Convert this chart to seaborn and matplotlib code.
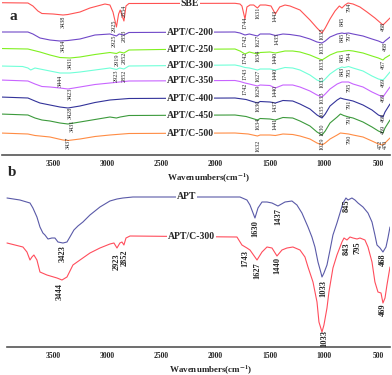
import matplotlib
matplotlib.use('Agg')
import matplotlib.pyplot as plt
import numpy as np
import pandas as pd
import seaborn as sns

sns.set_style('white')
plt.rcParams['font.family'] = ['Liberation Serif', 'DejaVu Serif']
plt.rcParams['mathtext.fontset'] = 'stix'

# ---------------- panel a : stacked spectra ----------------
sbe_wn = [3989, 3731, 3685, 3639, 3602, 3500, 3408, 3362, 3251, 3159, 3021, 2975, 2947, 2915, 2895,
          2880, 2846, 2827, 2800, 1822, 1776, 1758, 1730, 1712, 1684, 1650, 1615, 1590, 1540,
          1490, 1450, 1410, 1361, 1315, 1223, 1131, 1066, 1020, 990, 946, 900, 860, 836,
          808, 780, 734, 670, 605, 532, 458, 439, 393]
sbe_t = [152.3, 152, 149, 144, 141.5, 141, 140, 140.5, 143, 147, 151, 150, 143, 128, 141,
         145, 134, 149, 151.5, 151.7, 151, 149, 136, 148, 150, 150, 147, 150, 150,
         149, 141, 148, 150, 149, 145, 135, 127, 122, 127, 136, 144, 149, 147,
         150, 152, 151, 148, 143, 137, 130, 132, 137]

c200_wn = [3989, 3731, 3685, 3620, 3528, 3436, 3362, 3251, 3113, 2975, 2915, 2890, 2846, 2800,
           1822, 1776, 1730, 1690, 1615, 1590, 1500, 1450, 1380, 1315, 1223, 1131, 1066, 1020,
           990, 946, 880, 836, 815, 775, 734, 642, 559, 500, 458, 439, 393]
c200_t = [123, 123, 121, 117, 115, 114, 114.5, 116, 120, 121, 119, 121, 120, 122.5,
          123, 122, 120, 121, 119, 121, 121, 119.5, 121, 120.5, 119, 116, 113, 112,
          114, 118, 121, 122, 121.5, 122, 121, 119, 116, 114, 112, 114, 118]

c250_wn = [3989, 3731, 3620, 3528, 3436, 3344, 3251, 3113, 2975, 2915, 2885, 2846, 2800, 2513,
           1822, 1776, 1730, 1690, 1615, 1590, 1500, 1450, 1361, 1290, 1223, 1131, 1066, 1020,
           990, 946, 880, 836, 815, 775, 734, 642, 559, 500, 458, 439, 393]
c250_t = [106.5, 106, 103, 100, 97.5, 97, 98, 100.5, 102.5, 101.5, 103, 102, 105, 105.5,
          106, 104, 101, 103, 101, 102.5, 103, 102, 104, 104, 103, 100, 97, 95,
          97, 100, 103, 103.5, 104, 104.5, 104, 102, 99, 97, 95, 97, 100]

c300_wn = [3989, 3780, 3731, 3705, 3666, 3620, 3528, 3436, 3344, 3251, 3113, 2975, 2915, 2885,
           2846, 2800, 1822, 1776, 1730, 1690, 1615, 1590, 1500, 1450, 1361, 1290, 1223, 1131,
           1066, 1020, 990, 946, 880, 836, 815, 775, 734, 642, 559, 500, 458, 439, 393]
c300_t = [89, 88.5, 87, 85, 87, 86, 84, 82, 82, 83, 85, 87, 85.5, 87,
          86, 89, 90, 89, 87.5, 87, 85, 86, 86, 85, 87.5, 87, 85, 80,
          75, 73, 76, 81, 86, 88, 87.5, 88.5, 87, 84, 79, 76, 75, 77, 83]

c350_wn = [3989, 3731, 3666, 3602, 3528, 3436, 3362, 3251, 3113, 2975, 2800, 1822, 1776, 1730,
           1690, 1615, 1590, 1500, 1450, 1380, 1290, 1223, 1131, 1066, 1020, 990, 946, 880,
           836, 775, 734, 642, 559, 500, 458, 439, 393]
c350_t = [75, 74, 71, 68.5, 68, 67, 66, 68, 70.5, 72, 74, 74.5, 73.5, 72,
          71, 69, 70, 69.5, 67, 70, 70, 68, 64, 60, 58, 61, 66, 71,
          73, 73, 71, 68, 63, 60, 58, 61, 68]

c400_wn = [3989, 3731, 3666, 3620, 3528, 3436, 3362, 3251, 3113, 2975, 2800, 1822, 1720, 1615,
           1590, 1500, 1450, 1380, 1290, 1223, 1131, 1066, 1020, 990, 946, 880, 850, 820,
           775, 734, 642, 559, 500, 458, 439, 393]
c400_t = [58, 57, 54, 52, 50, 48, 47, 49, 52.5, 55, 56.5, 57, 55.5, 52,
          53.5, 53, 52, 54.5, 54, 51, 46, 40, 37, 41, 49, 55, 57, 56,
          55, 54, 50, 45, 40, 38, 43, 51]

c450_wn = [3989, 3731, 3666, 3602, 3528, 3436, 3362, 3251, 3113, 2975, 2915, 2880, 2800, 1822,
           1720, 1615, 1590, 1500, 1450, 1380, 1290, 1223, 1131, 1066, 1020, 990, 946, 880,
           850, 820, 775, 734, 642, 559, 500, 458, 439, 393]
c450_t = [41, 40, 37, 35, 34, 32, 31, 33, 35.5, 38, 37, 38, 39.5, 40,
          38.5, 35, 36.5, 36, 35, 37.5, 37, 34, 29, 23, 20, 24, 32, 38,
          41, 39.5, 38, 37, 33, 28, 24, 22, 27, 35]

c500_wn = [3989, 3731, 3666, 3528, 3408, 3362, 3251, 3113, 2975, 2800, 1822, 1700, 1615, 1590,
           1500, 1450, 1380, 1290, 1223, 1131, 1066, 1020, 990, 946, 880, 850, 775, 734,
           642, 559, 500, 465, 439, 393]
c500_t = [22, 21, 19.5, 18, 15, 14.5, 16, 18.5, 20, 21.5, 22, 21, 19, 20,
          20, 19.5, 21, 20.5, 19, 16, 12, 10, 12, 16, 20, 22, 21, 20,
          18, 14, 11, 10, 12, 17]

a_names = ['SBE', 'APT/C-200', 'APT/C-250', 'APT/C-300',
           'APT/C-350', 'APT/C-400', 'APT/C-450', 'APT/C-500']
a_colors = ['#ff5252', '#7048c8', '#80f020', '#70ffd8',
            '#c864ff', '#33339a', '#3c9a3c', '#ff8c44']
a_wn = [sbe_wn, c200_wn, c250_wn, c300_wn, c350_wn, c400_wn, c450_wn, c500_wn]
a_t = [sbe_t, c200_t, c250_t, c300_t, c350_t, c400_t, c450_t, c500_t]

# peak labels: (text, wavenumber position, top of label)
a_peaks = [
    [('3438', 3408, 139), ('2925', 2932, 135), ('2854', 2846, 150), ('1744', 1730, 138),
     ('1631', 1610, 148), ('1443', 1454, 145), ('1033', 1020, 127), ('845', 836, 138),
     ('794', 771, 152), ('468', 458, 133)],
    [('3434', 3408, 115), ('2925', 2932, 120), ('2853', 2846, 125), ('1742', 1730, 120),
     ('1627', 1610, 120), ('1435', 1435, 122), ('1033', 1020, 114), ('845', 836, 122),
     ('797', 771, 123), ('468', 439, 113)],
    [('3431', 3344, 98), ('2919', 2910, 102), ('2852', 2846, 103), ('1742', 1730, 103),
     ('1634', 1610, 105), ('1440', 1454, 103), ('1033', 1020, 98), ('845', 836, 102),
     ('794', 771, 103), ('467', 458, 95)],
    [('3444', 3436, 80), ('2923', 2919, 85), ('2852', 2846, 85), ('1743', 1730, 87),
     ('1627', 1610, 85), ('1440', 1454, 87), ('1033', 1020, 80), ('843', 836, 88),
     ('795', 771, 87), ('469', 458, 77)],
    [('3423', 3344, 67), ('1742', 1730, 72), ('1629', 1610, 70), ('1440', 1454, 70),
     ('1033', 1020, 64), ('795', 771, 72), ('469', 458, 62)],
    [('3428', 3344, 48), ('1630', 1610, 55), ('1437', 1454, 55), ('1035', 1020, 50),
     ('791', 771, 55), ('469', 458, 42)],
    [('3431', 3325, 35), ('1634', 1610, 37), ('1441', 1454, 37), ('1030', 1020, 31),
     ('791', 771, 40), ('469', 449, 30)],
    [('3437', 3362, 18), ('1632', 1610, 15), ('1029', 1020, 17), ('790', 771, 20),
     ('472', 485, 15), ('470', 439, 15)],
]

# ---------------- panel b : APT vs APT/C-300 ----------------
apt_wn = [3924, 3805, 3712, 3685, 3648, 3620, 3593, 3574, 3546, 3510, 3482, 3454, 3408, 3371,
          3344, 3307, 3270, 3224, 3159, 3067, 2975, 2910, 2855, 2763, 1776, 1712, 1684, 1638,
          1610, 1573, 1527, 1481, 1426, 1361, 1297, 1251, 1205, 1177, 1149, 1113, 1085, 1057,
          1029, 1020, 1002, 974, 946, 919, 882, 854, 826, 799, 780, 744, 716, 688,
          642, 596, 559, 532, 513, 485, 458, 430, 412, 393]
apt_t = [149, 147, 144, 139, 130, 120, 114, 112, 108, 109, 109, 105, 104, 105,
         110, 117, 121, 125, 132, 140, 146, 148, 149, 150, 150, 147, 142, 129,
         139, 145, 145, 144, 141, 145, 146, 142, 134, 127, 120, 110, 100, 85,
         74, 70, 74, 82, 97, 112, 124, 134, 144, 149, 147, 149, 147, 144,
         140, 134, 125, 112, 102, 99, 95, 100, 109, 120]

c300b_wn = [3924, 3777, 3740, 3712, 3694, 3676, 3648, 3620, 3556, 3463, 3417, 3371, 3316, 3251,
            3159, 3067, 2975, 2938, 2910, 2883, 2864, 2846, 2827, 2790, 1804, 1758, 1712, 1684,
            1619, 1573, 1527, 1481, 1435, 1389, 1343, 1288, 1223, 1177, 1149, 1103, 1066, 1048,
            1020, 1002, 974, 956, 919, 882, 836, 817, 790, 762, 734, 697, 670, 624,
            596, 559, 532, 504, 476, 458, 439, 421, 393]
c300b_t = [104, 100, 95, 87, 90, 92, 87, 75, 72, 69, 67, 70, 82, 87,
           94, 99, 103, 104, 99, 104, 105, 102, 109, 111, 110, 102, 99, 97,
           87, 95, 100, 99, 91, 97, 99, 100, 97, 90, 80, 65, 45, 25,
           15, 22, 39, 55, 79, 92, 105, 109, 107, 110, 109, 108, 109, 107,
           100, 85, 65, 55, 54, 44, 49, 62, 80]

b_names = ['APT', 'APT/C-300']
b_colors = ['#5a5aa8', '#ff4d5c']
b_wn = [apt_wn, c300b_wn]
b_t = [apt_t, c300b_t]

b_peaks = [
    [('3423', 3408, 102), ('2923', 2910, 94), ('1630', 1638, 127), ('1437', 1426, 139),
     ('1033', 1011, 67), ('845', 790, 147), ('468', 458, 94)],
    [('3444', 3436, 64), ('2852', 2837, 97), ('1743', 1730, 97), ('1627', 1619, 85),
     ('1440', 1435, 90), ('1033', 1002, 17), ('843', 790, 105), ('795', 697, 105),
     ('469', 458, 44)],
]

xticks = [3500, 3000, 2500, 2000, 1500, 1000, 500]


def to_frame(names, wns, ts):
    rows = []
    for name, wn, t in zip(names, wns, ts):
        rows.append(pd.DataFrame({'wn': wn, 't': t, 'sample': name}))
    return pd.concat(rows, ignore_index=True)


df_a = to_frame(a_names, a_wn, a_t)
df_b = to_frame(b_names, b_wn, b_t)

fig = plt.figure(figsize=(3.92, 3.75), dpi=100)
ax_a = fig.add_axes([2 / 392, (375 - 155) / 375, 388 / 392, 155 / 375])
ax_b = fig.add_axes([2 / 392, (375 - 347) / 375, 388 / 392, 162 / 375])

sns.lineplot(data=df_a, x='wn', y='t', hue='sample', palette=dict(zip(a_names, a_colors)),
             estimator=None, sort=False, legend=False, lw=0.8, ax=ax_a)
sns.lineplot(data=df_b, x='wn', y='t', hue='sample', palette=dict(zip(b_names, b_colors)),
             estimator=None, sort=False, legend=False, lw=0.8, ax=ax_b)

ax_a.set_ylim(0, 155)
ax_b.set_ylim(0, 162)

for ax in (ax_a, ax_b):
    ax.set_xlim(3970, 393)
    sns.despine(ax=ax, left=True)
    ax.spines['bottom'].set_color('#555555')
    ax.spines['bottom'].set_linewidth(1.2)
    ax.set_yticks([])
    ax.set_xticks(xticks)
    ax.tick_params(axis='x', which='major', length=2, width=0.8, color='#555555',
                   pad=1.5, labelsize=5.5)
    for lab in ax.get_xticklabels():
        lab.set_fontweight('bold')
    ax.set_xlabel('')
    ax.set_ylabel('')
ax_b.spines['bottom'].set_bounds(3924, 393)

# sample names on the curves
for name, wn, t in zip(a_names, a_wn, a_t):
    y = np.interp(2237, wn[::-1], t[::-1])
    ax_a.text(2237, y, name, ha='center', va='center', fontsize=7, fontweight='bold',
              bbox=dict(fc='white', ec='none', pad=0.6))
for name, wn, t, xpos in zip(b_names, b_wn, b_t, [2269, 2223]):
    y = np.interp(xpos, wn[::-1], t[::-1])
    ax_b.text(xpos, y, name, ha='center', va='center', fontsize=7, fontweight='bold',
              bbox=dict(fc='white', ec='none', pad=0.6))

# peak positions
for peaks in a_peaks:
    for txt, x, y in peaks:
        ax_a.text(x, y, txt, rotation=90, ha='center', va='top', fontsize=4.4)
for peaks in b_peaks:
    for txt, x, y in peaks:
        ax_b.text(x, y, txt, rotation=90, ha='center', va='top', fontsize=6, fontweight='bold')

label = r'Wavenumbers(cm$^{\mathbf{-1}}$)'
fig.text(209 / 392, 1 - 178 / 375, label, ha='center', va='center', fontsize=6.5, fontweight='bold')
fig.text(211 / 392, 1 - 370 / 375, label, ha='center', va='center', fontsize=6.5, fontweight='bold')
fig.text(13 / 392, 1 - 17 / 375, 'a', ha='center', va='center', fontsize=11, fontweight='bold')
fig.text(12 / 392, 1 - 172 / 375, 'b', ha='center', va='center', fontsize=11, fontweight='bold')

fig.savefig('out.png', dpi=100)
